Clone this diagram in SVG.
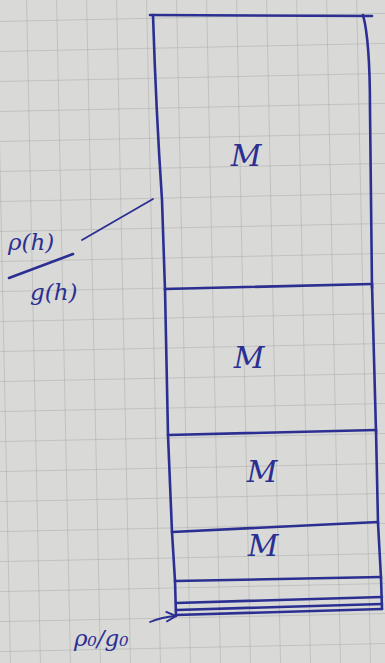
<svg xmlns="http://www.w3.org/2000/svg" width="385" height="663" viewBox="0 0 385 663">
  <defs>
    <style>
      .pen { fill: none; stroke: #2b2f92; stroke-width: 2.6; stroke-linecap: round; stroke-linejoin: round; }
      .thin { fill: none; stroke: #2b2f92; stroke-width: 1.8; stroke-linecap: round; }
      .grid { stroke: #a9aaa8; stroke-width: 1; }
      .lbl { fill: #2b2f92; font-family: "DejaVu Serif", "Liberation Serif", serif; font-style: italic; }
      .m { font-size: 30px; text-anchor: middle; }
      .s { font-size: 23px; }
    </style>
    <pattern id="gridPat" x="3" y="17" width="30" height="30" patternUnits="userSpaceOnUse">
      <path class="grid" d="M0 0 H30 M0 0 V30" fill="none"/>
    </pattern>
    <marker id="arrow" viewBox="0 0 10 10" refX="9" refY="5" markerWidth="7" markerHeight="7" orient="auto-start-reverse">
      <path d="M1 1 L9 5 L1 9" fill="none" stroke="#2b2f92" stroke-width="1.6"/>
    </marker>
  </defs>

  <!-- paper -->
  <rect x="0" y="0" width="385" height="663" fill="#d9d9d7"/>
  <rect x="-20" y="-20" width="425" height="703" fill="url(#gridPat)" transform="rotate(-1.2 192 330)"/>

  <g id="block1">
    <path class="pen" d="M150 15 L372 16"/>
    <path class="pen" d="M153 15 Q156 110 162 200 L165 290"/>
    <path class="pen" d="M363 15 Q370 40 370 110 L372 288"/>
    <path class="pen" d="M165 289 L372 284"/>
    <text class="lbl m" x="246" y="166">M</text>
  </g>

  <g id="block2">
    <path class="pen" d="M165 289 L168 435"/>
    <path class="pen" d="M372 284 L376 432"/>
    <path class="pen" d="M168 435 L376 430"/>
    <text class="lbl m" x="249" y="368">M</text>
  </g>

  <g id="block3">
    <path class="pen" d="M168 435 L172 532"/>
    <path class="pen" d="M376 430 L378 523"/>
    <path class="pen" d="M172 532 L378 522"/>
    <text class="lbl m" x="262" y="482">M</text>
  </g>

  <g id="block4">
    <path class="pen" d="M172 532 L175 581"/>
    <path class="pen" d="M378 523 L381 578"/>
    <path class="pen" d="M175 581 L381 577"/>
    <text class="lbl m" x="263" y="556">M</text>
  </g>

  <g id="base">
    <path class="pen" d="M175 581 L176 616"/>
    <path class="pen" d="M381 578 L382 609"/>
    <path class="pen" d="M176 603 L382 597"/>
    <path class="pen" d="M176 610 L382 604"/>
    <path class="pen" d="M176 615 L382 609"/>
  </g>

  <g id="label-rho-g">
    <text class="lbl s" x="8" y="250">ρ(h)</text>
    <path class="pen" d="M9 278 L73 254"/>
    <text class="lbl s" x="30" y="300">g(h)</text>
  </g>

  <g id="label-rho0-g0">
    <text class="lbl s" x="74" y="646">ρ₀/g₀</text>
  </g>

  <g id="connectors">
    <path class="thin" d="M82 240 L153 199"/>
    <path class="thin" d="M150 622 Q162 617 176 616" marker-end="url(#arrow)"/>
  </g>
</svg>
